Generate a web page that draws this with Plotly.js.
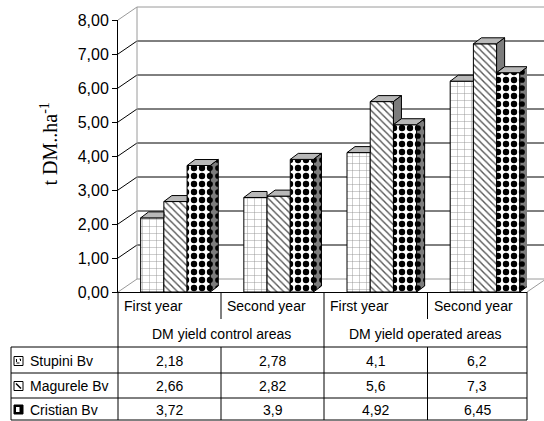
<!DOCTYPE html>
<html><head><meta charset="utf-8">
<script src="https://cdn.plot.ly/plotly-3.0.1.min.js"></script>
<style>html,body{margin:0;padding:0;background:#fff;} #chart{width:544px;height:421px;}</style>
</head><body><div id="chart"></div>
<script>
// ---- data ----
const categories = ['First year', 'Second year', 'First year', 'Second year'];
const groupLabels = ['DM yield control areas', 'DM yield operated areas'];
const seriesNames = ['Stupini Bv', 'Magurele Bv', 'Cristian Bv'];
const stupini = [2.18, 2.78, 4.1, 6.2];
const magurele = [2.66, 2.82, 5.6, 7.3];
const cristian = [3.72, 3.9, 4.92, 6.45];
const yTickVals = [0, 1, 2, 3, 4, 5, 6, 7, 8];
const yTitle = 't DM..ha<sup>-1</sup>';

// ---- geometry ----
const L = 118, R = 527, T = 20, B = 292;
const xRange = [-0.557, 3.407];
const yRange = [0, 8];
const pxPerX = (R - L) / (xRange[1] - xRange[0]);
const pxPerY = (B - T) / (yRange[1] - yRange[0]);
const toPx = p => (p - L) / (R - L);
const toPy = p => (B - p) / (B - T);
const sans = 'Liberation Sans, Arial, sans-serif';
const serif = 'Liberation Serif, Times New Roman, serif';
const fmt = v => String(v).replace('.', ',');

const xIdx = categories.map((c, i) => i);
const barW = 0.225;
const offsets = [-0.3375, -0.1125, 0.1125];
const dX = 8 / pxPerX, dY = 6 / pxPerY;
const allSeries = [stupini, magurele, cristian];

const patterns = [
  {shape: '+', fgcolor: '#8c8c8c', bgcolor: '#ffffff', size: 7, solidity: 0.12},
  {shape: '\\', fgcolor: '#555555', bgcolor: '#ffffff', size: 5, solidity: 0.28},
  {shape: '.', fgcolor: '#000000', bgcolor: '#ffffff', size: 8, solidity: 0.5}
];

const traces = [];
// front faces: real bars
allSeries.forEach((s, k) => {
  traces.push({
    type: 'bar', name: seriesNames[k], x: xIdx, y: s, offset: offsets[k], width: barW,
    marker: {color: '#ffffff', pattern: patterns[k], line: {color: '#000', width: 1}},
    showlegend: false
  });
});
// 3D depth faces (top and side), computed from the same values
allSeries.forEach((s, k) => {
  const tx = [], ty = [], sx = [], sy = [];
  s.forEach((v, i) => {
    const xl = i + offsets[k], xr = xl + barW;
    const next = k < 2 ? allSeries[k + 1][i] : -Infinity;
    if (next > v) {
      tx.push(xl, xl + dX, xr, xr, xl, null); ty.push(v, v + dY, v + dY, v, v, null);
    } else {
      tx.push(xl, xl + dX, xr + dX, xr, xl, null); ty.push(v, v + dY, v + dY, v, v, null);
    }
    const low = k < 2 ? next : 0;
    if (v > low) {
      sx.push(xr, xr + dX, xr + dX, xr, xr, null); sy.push(low, low + dY, v + dY, v, low, null);
    }
  });
  traces.push({type: 'scatter', mode: 'lines', x: tx, y: ty, fill: 'toself', fillcolor: '#b8b8b8',
    line: {color: '#000', width: 1}, hoverinfo: 'skip', showlegend: false});
  const side = {type: 'scatter', mode: 'lines', x: sx, y: sy, fill: 'toself', fillcolor: '#7c7c7c',
    line: {color: '#000', width: 1}, hoverinfo: 'skip', showlegend: false};
  if (k === 2) side.fillpattern = {shape: '.', fgcolor: '#000', bgcolor: '#7c7c7c', size: 8, solidity: 0.4};
  traces.push(side);
});

// ---- decorations: 3D walls and gridlines ----
const shapes = [];
const bdx = 19 / (R - L), bdy = 13 / (B - T);
const gray = '#9a9a9a';
yTickVals.forEach(v => {
  const yp = (v - yRange[0]) / (yRange[1] - yRange[0]);
  const col = (v === yRange[0] || v === yRange[1]) ? gray : '#000';
  shapes.push({type: 'line', xref: 'paper', yref: 'paper', x0: 0, y0: yp, x1: bdx, y1: yp + bdy, line: {color: col, width: 1}, layer: 'below'});
  shapes.push({type: 'line', xref: 'paper', yref: 'paper', x0: bdx, y0: yp + bdy, x1: toPx(548), y1: yp + bdy, line: {color: col, width: 1}, layer: 'below'});
});
shapes.push({type: 'line', xref: 'paper', yref: 'paper', x0: bdx, y0: bdy, x1: bdx, y1: 1 + bdy, line: {color: gray, width: 1}, layer: 'below'});
shapes.push({type: 'line', xref: 'paper', yref: 'paper', x0: 1, y0: 0, x1: 1 + bdx, y1: bdy, line: {color: gray, width: 1}, layer: 'below'});

// ---- data table ----
const colX = [118, 221, 324, 427.5, 527];
const tableLeft = 11;
const ln = (x0, y0, x1, y1) => shapes.push({type: 'line', xref: 'paper', yref: 'paper', x0: toPx(x0), y0: toPy(y0), x1: toPx(x1), y1: toPy(y1), line: {color: '#000', width: 1}});
[347, 373, 398, 420].forEach(y => ln(tableLeft, y, 527, y));
ln(tableLeft, 347, tableLeft, 420);
ln(118, 292, 118, 420);
ln(221, 292, 221, 319); ln(221, 347, 221, 420);
ln(324, 292, 324, 420);
ln(427.5, 292, 427.5, 319); ln(427.5, 347, 427.5, 420);
ln(527, 292, 527, 420);

// legend key icons
const icon = (k, yc) => {
  const x0 = 14, x1 = 23, y0 = yc - 4.5, y1 = yc + 4.5;
  const box = {type: 'rect', xref: 'paper', yref: 'paper', x0: toPx(x0), x1: toPx(x1), y0: toPy(y1), y1: toPy(y0), line: {color: '#000', width: 1}};
  if (k === 2) { box.fillcolor = '#000'; shapes.push(box);
    shapes.push({type: 'rect', xref: 'paper', yref: 'paper', x0: toPx(x0 + 2), x1: toPx(x0 + 5.5), y0: toPy(y1 - 2), y1: toPy(y0 + 2), fillcolor: '#fff', line: {width: 0}});
  } else { box.fillcolor = '#fff'; shapes.push(box);
    if (k === 0) {
      shapes.push({type: 'rect', xref: 'paper', yref: 'paper', x0: toPx(x0 + 2.5), x1: toPx(x1 - 2.5), y0: toPy(y1 - 2.5), y1: toPy(y0 + 2.5), line: {color: '#000', width: 1, dash: 'dot'}});
    } else {
      shapes.push({type: 'line', xref: 'paper', yref: 'paper', x0: toPx(x0 + 2), y0: toPy(y0 + 2), x1: toPx(x1 - 2), y1: toPy(y1 - 2), line: {color: '#000', width: 1.5}});
    }
  }
};

const annotations = [];
const txt = (text, xpx, ypx, anchor, size) => annotations.push({
  text: text, xref: 'paper', yref: 'paper', x: toPx(xpx), y: toPy(ypx), xanchor: anchor, yanchor: 'middle',
  showarrow: false, font: {family: sans, size: size, color: '#000'}
});

categories.forEach((c, i) => txt(c, colX[i] + 4, 306, 'left', 14));
groupLabels.forEach((g, j) => txt(g, (colX[2 * j] + colX[2 * j + 2]) / 2, 334, 'center', 14));
const rowCenters = [361, 386, 409.5];
seriesNames.forEach((n, k) => {
  txt(n, 28, rowCenters[k], 'left', 14);
  icon(k, rowCenters[k]);
  allSeries[k].forEach((v, i) => txt(fmt(v), (colX[i] + colX[i + 1]) / 2, rowCenters[k], 'center', 14));
});
// y-axis title
annotations.push({text: yTitle, xref: 'paper', yref: 'paper', x: toPx(48), y: toPy(144.5), xanchor: 'center', yanchor: 'middle',
  textangle: -90, showarrow: false, font: {family: serif, size: 20, color: '#000'}});

const layout = {
  width: 544, height: 421,
  margin: {l: L, r: 544 - R, t: T, b: 421 - B, pad: 0},
  paper_bgcolor: '#fff', plot_bgcolor: 'rgba(0,0,0,0)',
  separators: ', ',
  barmode: 'overlay',
  showlegend: false,
  xaxis: {range: xRange, showticklabels: false, ticks: '', showgrid: false, zeroline: false, showline: true, linecolor: '#000', linewidth: 1, fixedrange: true},
  yaxis: {range: yRange, tickvals: yTickVals, tickformat: '.2f', ticks: 'outside', ticklen: 5, tickcolor: '#000',
    showgrid: false, zeroline: false, showline: true, linecolor: '#000', linewidth: 1,
    tickfont: {family: sans, size: 16, color: '#000'}, fixedrange: true},
  shapes: shapes,
  annotations: annotations
};

Plotly.newPlot('chart', traces, layout, {staticPlot: true, displayModeBar: false});
</script>
</body></html>
